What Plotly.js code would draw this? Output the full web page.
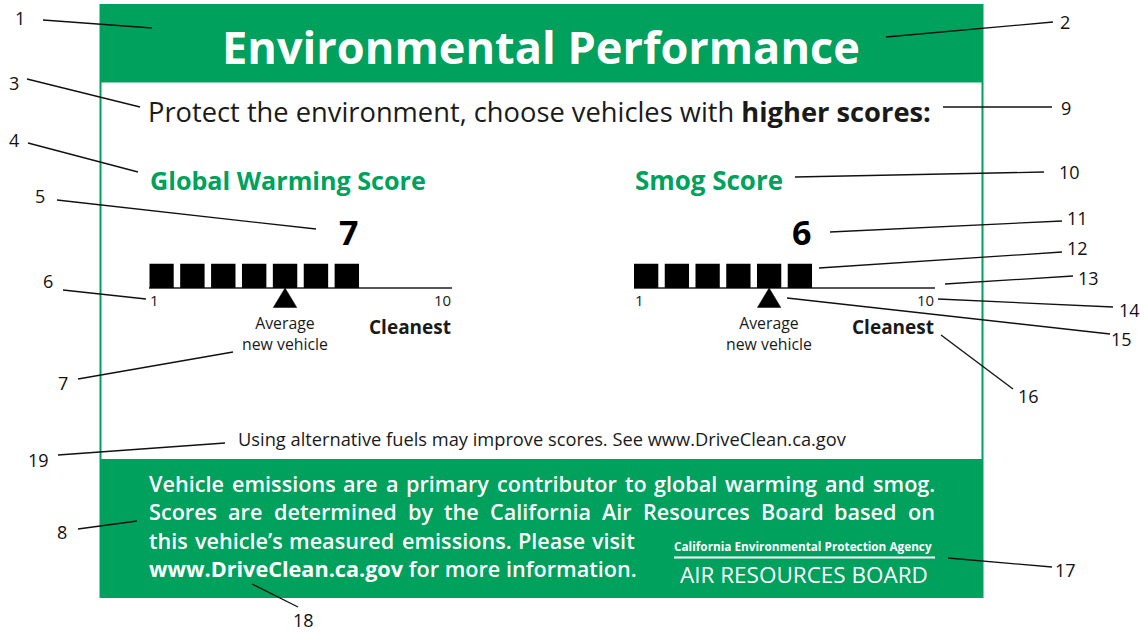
<!DOCTYPE html>
<html>
<head>
<meta charset="utf-8">
<script src="https://cdn.plot.ly/plotly-3.0.1.min.js"></script>
<style>
html,body{margin:0;padding:0;background:#fff;}
#chart{width:1146px;height:633px;}
</style>
</head>
<body>
<div id="chart"></div>
<script>
// ---------------- DATA ----------------
const labelTitle = 'Environmental Performance';
const promptText = 'Protect the environment, choose vehicles with ';
const promptBold = 'higher scores:';
const scoreNames = ['Global Warming Score', 'Smog Score'];
const scores = [7, 6];
const averageScores = [5, 5];
const scaleLimits = [1, 10];
const scaleEndLabels = ['1', '10'];
const averageLabel = ['Average', 'new vehicle'];
const cleanestLabel = 'Cleanest';
const footnote = 'Using alternative fuels may improve scores. See www.DriveClean.ca.gov';
const infoLines = [
  'Vehicle emissions are a primary contributor to global warming and smog.',
  'Scores are determined by the California Air Resources Board based on',
  'this vehicle\u2019s measured emissions. Please visit'
];
const infoUrl = 'www.DriveClean.ca.gov';
const infoTail = 'for more information.';
const agencyName = 'California Environmental Protection Agency';
const boardName = 'AIR RESOURCES BOARD';
const calloutNumbers = ['1','2','3','4','5','6','7','8','9','10','11','12','13','14','15','16','17','18','19'];

// ---------------- LAYOUT / STYLE ----------------
const W = 1146, H = 633;
const GREEN = '#00A05D';
const FAM = 'Open Sans';
const FONT = '"Open Sans", Lato, sans-serif';
const TXT = '#1a1a1a';
const box = {x0: 100.5, x1: 982.5, y0: 5, y1: 597, headBottom: 82.5, footTop: 459};
const scalePx = [[149.3, 451.7], [634, 935]];
const baselinePx = 288, unitPx = 24.3, yr = [-1, 1.1];
const halfSq = 0.395;
const calloutGeo = {
  '1':  {l:[20,18],   a:[43,20],   b:[152,28]},
  '2':  {l:[1065,22], a:[1053,22], b:[886,37]},
  '3':  {l:[14,83],   a:[27,79],   b:[140,107]},
  '4':  {l:[14,140],  a:[28,143],  b:[138,172]},
  '5':  {l:[40,196],  a:[57,200],  b:[316,229]},
  '6':  {l:[48,281],  a:[63,290],  b:[146,299]},
  '7':  {l:[63,383],  a:[78,379],  b:[233,352]},
  '8':  {l:[62,532],  a:[78,529],  b:[137,521]},
  '9':  {l:[1066,108],a:[1052,107],b:[943,107]},
  '10': {l:[1069,172],a:[1044,172],b:[795,177]},
  '11': {l:[1077,218],a:[1062,221],b:[830,232]},
  '12': {l:[1077,248],a:[1062,252],b:[819,268]},
  '13': {l:[1088,278],a:[1073,276],b:[945,284]},
  '14': {l:[1129,310],a:[1113,307],b:[938,299]},
  '15': {l:[1121,339],a:[1110,334],b:[787,298]},
  '16': {l:[1028,396],a:[1013,389],b:[941,335]},
  '17': {l:[1065,570],a:[1052,567],b:[948,558]},
  '18': {l:[303,620], a:[298,607], b:[252,584]},
  '19': {l:[38,460],  a:[58,455],  b:[225,443]}
};

// text measuring, to size text to the reference widths
const ctx = document.createElement('canvas').getContext('2d');
function textW(t, weight, size){ ctx.font = weight + ' ' + size + 'px "' + FAM + '"'; return ctx.measureText(t).width; }
function fit(parts, target){ let s = 0; parts.forEach(p => s += textW(p[0], p[1], 100)); return +(100 * target / s).toFixed(2); }

// ---------------- BUILD ----------------
const traces = [{type:'scatter', x:[], y:[], xaxis:'x', yaxis:'y', hoverinfo:'skip', showlegend:false}];
const annotations = [];
const shapes = [];
function ann(o){ annotations.push(Object.assign({showarrow:false, xref:'x', yref:'y', borderpad:0}, o)); }

// label frame
shapes.push({type:'rect', xref:'x', yref:'y', x0:box.x0, x1:box.x1, y0:box.y0, y1:box.y1, line:{color:GREEN, width:2}, fillcolor:'rgba(0,0,0,0)', layer:'below'});
shapes.push({type:'rect', xref:'x', yref:'y', x0:box.x0-0.5, x1:box.x1+0.5, y0:box.y0, y1:box.headBottom, line:{width:0}, fillcolor:GREEN, layer:'below'});
shapes.push({type:'rect', xref:'x', yref:'y', x0:box.x0-0.5, x1:box.x1+0.5, y0:box.footTop, y1:box.y1, line:{width:0}, fillcolor:GREEN, layer:'below'});

// header text
ann({x:541, y:46, text:'<b>' + labelTitle + '</b>', font:{family:FONT, size:fit([[labelTitle,700]], 638), color:'#fff'}, xanchor:'center'});
ann({x:147, y:111, text:promptText + '<b>' + promptBold + '</b>', font:{family:FONT, size:fit([[promptText,400],[promptBold,700]], 783), color:TXT}, xanchor:'left'});

// score scales
const layoutAxes = {};
const nameWidths = [276, 148];
scores.forEach((s, i) => {
  const k = i + 2;
  const xa = 'x' + k, ya = 'y' + k;
  const [px0, px1] = scalePx[i];
  layoutAxes['xaxis' + k] = {domain:[px0/W, px1/W], range:[scaleLimits[0]-halfSq, scaleLimits[1]+halfSq], anchor:ya,
    showgrid:false, zeroline:false, showticklabels:false, showline:false, ticks:'', fixedrange:true};
  const pyBottom = baselinePx - yr[0]*unitPx, pyTop = baselinePx - yr[1]*unitPx;
  layoutAxes['yaxis' + k] = {domain:[(H-pyBottom)/H, (H-pyTop)/H], range:yr, anchor:xa,
    showgrid:false, zeroline:true, zerolinecolor:'#555', zerolinewidth:2, showticklabels:false, showline:false, ticks:'', fixedrange:true};
  const xs = [], ys = [];
  for (let v = scaleLimits[0]; v <= s; v++) { xs.push(v); ys.push(1); }
  traces.push({type:'bar', x:xs, y:ys, width:0.79, marker:{color:'#000', line:{width:0}}, xaxis:xa, yaxis:ya, hoverinfo:'skip', showlegend:false});
  const a = averageScores[i];
  traces.push({type:'scatter', mode:'lines', x:[a-0.38, a+0.38, a, a-0.38], y:[-0.8, -0.8, 0, -0.8], fill:'toself', fillcolor:'#000', line:{color:'#000', width:0.5}, xaxis:xa, yaxis:ya, hoverinfo:'skip', showlegend:false});
  ann({xref:xa, x:scaleLimits[0]-halfSq, y:180, text:'<b>' + scoreNames[i] + '</b>', font:{family:FONT, size:fit([[scoreNames[i],700]], nameWidths[i]), color:GREEN}, xanchor:'left'});
  ann({xref:xa, x:s+halfSq, y:232, text:'<b>' + s + '</b>', font:{family:FONT, size:34, color:'#000'}, xanchor:'right'});
  ann({xref:xa, x:scaleLimits[0]-halfSq, y:300, text:scaleEndLabels[0], font:{family:FONT, size:15, color:TXT}, xanchor:'left'});
  ann({xref:xa, x:scaleLimits[1]+halfSq, y:300, text:scaleEndLabels[1], font:{family:FONT, size:15, color:TXT}, xanchor:'right'});
  ann({xref:xa, x:a, y:333, text:averageLabel.join('<br>'), font:{family:FONT, size:fit([[averageLabel[1],400]], 86), color:TXT}, xanchor:'center', align:'center'});
  ann({xref:xa, x:scaleLimits[1]+halfSq, y:326.5, text:'<b>' + cleanestLabel + '</b>', font:{family:FONT, size:fit([[cleanestLabel,700]], 82), color:TXT}, xanchor:'right'});
});

// footnote
ann({x:542, y:438, text:footnote, font:{family:FONT, size:fit([[footnote,400]], 608), color:TXT}, xanchor:'center'});

// justified info text in footer
const infoSize = fit([[infoUrl + ' ',700],[infoTail,600]], 488);
const infoFont = {family:FONT, size:infoSize, weight:600, color:'#fff'};
const infoRows = [{y:483.5, x0:148, x1:934}, {y:511.8, x0:148, x1:934}, {y:540.1, x0:148, x1:634}];
infoLines.forEach((line, i) => {
  const words = line.split(' ');
  const widths = words.map(w => textW(w, 600, infoSize));
  const total = widths.reduce((p, c) => p + c, 0);
  const gap = (infoRows[i].x1 - infoRows[i].x0 - total) / (words.length - 1);
  let x = infoRows[i].x0;
  words.forEach((w, j) => {
    ann({x:x, y:infoRows[i].y, text:w, font:infoFont, xanchor:'left'});
    x += widths[j] + gap;
  });
});
ann({x:148, y:568.4, text:'<b>' + infoUrl + '</b> ' + infoTail, font:infoFont, xanchor:'left'});

// agency block
ann({x:803, y:546, text:'<b>' + agencyName + '</b>', font:{family:FONT, size:fit([[agencyName,700]], 258), color:'#fff'}, xanchor:'center'});
shapes.push({type:'line', xref:'x', yref:'y', x0:674, x1:935, y0:557.5, y1:557.5, line:{color:'#fff', width:2}});
ann({x:804, y:574.5, text:boardName, font:{family:FONT, size:fit([[boardName,400]], 248), color:'#fff'}, xanchor:'center'});

// callouts
calloutNumbers.forEach(n => {
  const g = calloutGeo[n];
  shapes.push({type:'line', xref:'x', yref:'y', x0:g.a[0], y0:g.a[1], x1:g.b[0], y1:g.b[1], line:{color:'#111', width:1.3}, layer:'above'});
  ann({x:g.l[0], y:g.l[1], text:n, font:{family:FONT, size:18, color:'#111'}, xanchor:'center'});
});

const layout = Object.assign({
  width:W, height:H,
  margin:{l:0, r:0, t:0, b:0, pad:0},
  paper_bgcolor:'#fff', plot_bgcolor:'rgba(0,0,0,0)',
  showlegend:false, barmode:'overlay',
  xaxis:{domain:[0,1], range:[0,W], visible:false, fixedrange:true},
  yaxis:{domain:[0,1], range:[H,0], visible:false, fixedrange:true},
  shapes:shapes, annotations:annotations
}, layoutAxes);

Plotly.newPlot('chart', traces, layout, {staticPlot:true, displayModeBar:false});
</script>
</body>
</html>
